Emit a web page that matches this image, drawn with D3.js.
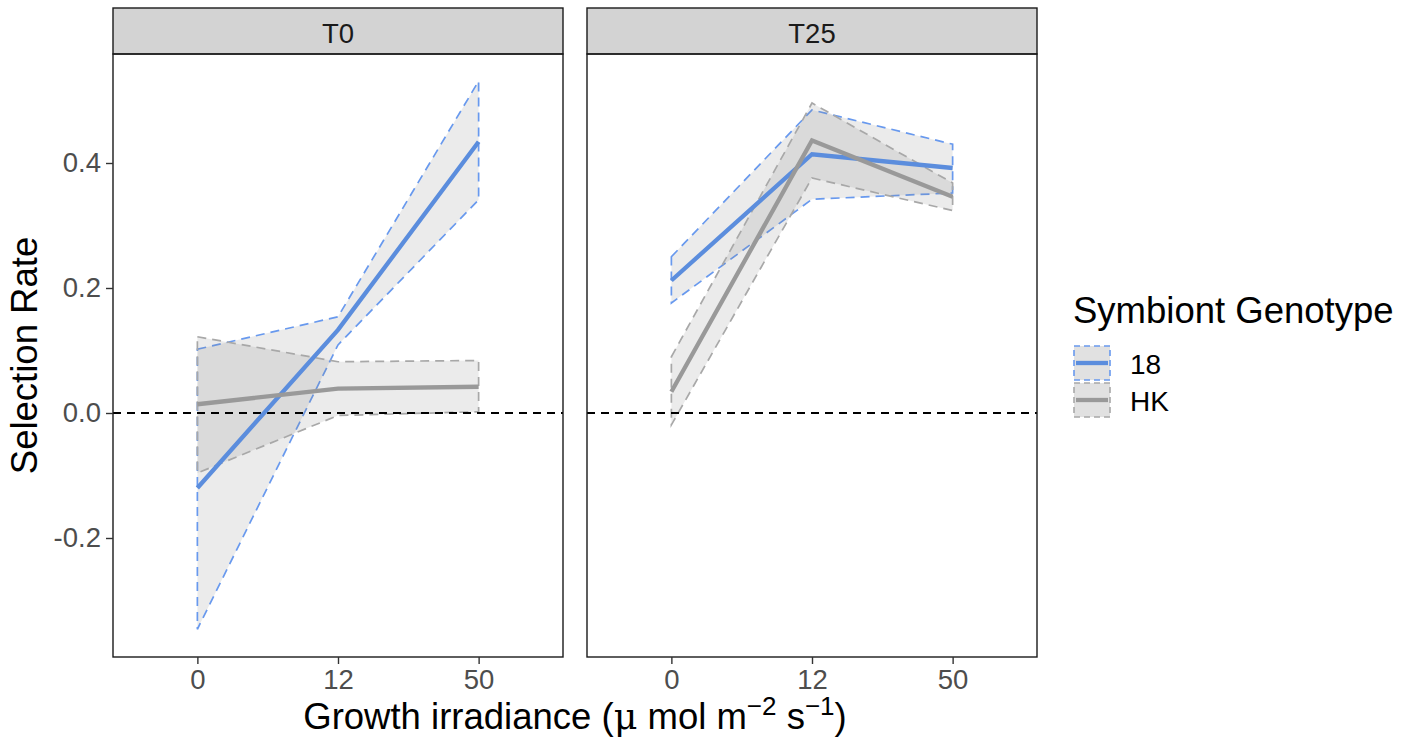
<!DOCTYPE html>
<html>
<head>
<meta charset="utf-8">
<script src="https://cdn.jsdelivr.net/npm/d3@7"></script>
<style>
  body { margin: 0; background: #fff; }
  text { font-family: "Liberation Sans", Arial, sans-serif; }
</style>
</head>
<body>
<div id="chart"></div>
<script>
// facets, categories and series
const facets = ["T0", "T25"];
const irradiance = ["0", "12", "50"];
const genotypes = ["18", "HK"];
const yTicks = [-0.2, 0.0, 0.2, 0.4];

// T0 panel
const t0_18_fit = [-0.120, 0.133, 0.434];
const t0_18_lwr = [-0.346, 0.109, 0.341];
const t0_18_upr = [0.102, 0.154, 0.531];
const t0_HK_fit = [0.014, 0.039, 0.042];
const t0_HK_lwr = [-0.096, -0.004, 0.002];
const t0_HK_upr = [0.122, 0.082, 0.084];

// T25 panel
const t25_18_fit = [0.212, 0.414, 0.392];
const t25_18_lwr = [0.176, 0.342, 0.352];
const t25_18_upr = [0.250, 0.485, 0.430];
const t25_HK_fit = [0.034, 0.436, 0.346];
const t25_HK_lwr = [-0.019, 0.376, 0.324];
const t25_HK_upr = [0.090, 0.496, 0.368];

const seriesByFacet = {
  T0: { "18": [t0_18_fit, t0_18_lwr, t0_18_upr], HK: [t0_HK_fit, t0_HK_lwr, t0_HK_upr] },
  T25: { "18": [t25_18_fit, t25_18_lwr, t25_18_upr], HK: [t25_HK_fit, t25_HK_lwr, t25_HK_upr] }
};

const lineColor = { "18": "#5b8ddd", HK: "#999999" };
const edgeColor = { "18": "#6899ee", HK: "#a8a8a8" };

const width = 1415, height = 749;
const panelTop = 54, panelBottom = 657, stripTop = 8;
const panelLeft = [113, 587], panelW = 450;

const svg = d3.select("#chart").append("svg").attr("width", width).attr("height", height);

const y = d3.scaleLinear().domain([-0.3904, 0.5744]).range([panelBottom, panelTop]);

facets.forEach(function(f, i) {
  const left = panelLeft[i];
  const x = d3.scalePoint().domain(irradiance).range([left, left + panelW]).padding(0.6);
  const g = svg.append("g");

  // strip
  g.append("rect").attr("x", left).attr("y", stripTop).attr("width", panelW).attr("height", panelTop - stripTop)
    .attr("fill", "#d3d3d3").attr("stroke", "#1a1a1a").attr("stroke-width", 1.4);
  g.append("text").attr("x", left + panelW / 2).attr("y", 43).attr("text-anchor", "middle")
    .attr("font-size", 27.5).attr("fill", "#1a1a1a").text(f);

  // ribbons
  genotypes.forEach(function(gt) {
    const s = seriesByFacet[f][gt];
    const area = d3.area().x(function(d, j) { return x(irradiance[j]); })
      .y0(function(d, j) { return y(s[1][j]); }).y1(function(d, j) { return y(s[2][j]); });
    g.append("path").datum(s[0]).attr("d", area)
      .attr("fill", "#808080").attr("fill-opacity", 0.16)
      .attr("stroke", edgeColor[gt]).attr("stroke-width", 1.7).attr("stroke-dasharray", "9,6");
  });

  // zero reference
  g.append("line").attr("x1", left).attr("x2", left + panelW).attr("y1", y(0)).attr("y2", y(0))
    .attr("stroke", "#000").attr("stroke-width", 1.8).attr("stroke-dasharray", "8,6");

  // fitted lines
  genotypes.forEach(function(gt) {
    const s = seriesByFacet[f][gt];
    const line = d3.line().x(function(d, j) { return x(irradiance[j]); }).y(function(d) { return y(d); });
    g.append("path").datum(s[0]).attr("d", line).attr("fill", "none")
      .attr("stroke", lineColor[gt]).attr("stroke-width", 4.3);
  });

  // panel border
  g.append("rect").attr("x", left).attr("y", panelTop).attr("width", panelW).attr("height", panelBottom - panelTop)
    .attr("fill", "none").attr("stroke", "#1a1a1a").attr("stroke-width", 1.4);

  // x axis
  const xa = g.append("g").attr("transform", "translate(0," + panelBottom + ")")
    .call(d3.axisBottom(x).tickSizeInner(7).tickSizeOuter(0).tickPadding(5));
  xa.select(".domain").remove();
  xa.selectAll("line").attr("stroke", "#333").attr("stroke-width", 1.4);
  xa.selectAll("text").attr("font-size", 27.5).attr("fill", "#4d4d4d").attr("font-family", "Liberation Sans, Arial, sans-serif");

  // y axis only on first panel
  if (i === 0) {
    const ya = g.append("g").attr("transform", "translate(" + left + ",0)")
      .call(d3.axisLeft(y).tickValues(yTicks).tickFormat(d3.format(".1f")).tickSizeInner(7).tickSizeOuter(0).tickPadding(5));
    ya.select(".domain").remove();
    ya.selectAll("line").attr("stroke", "#333").attr("stroke-width", 1.4);
    ya.selectAll("text").attr("font-size", 27.5).attr("fill", "#4d4d4d").attr("font-family", "Liberation Sans, Arial, sans-serif")
      .text(function(d) { return d3.format(".1f")(d).replace("−", "-"); });
  }
});

// axis titles
svg.append("text").attr("transform", "translate(37," + ((panelTop + panelBottom) / 2) + ") rotate(-90)")
  .attr("text-anchor", "middle").attr("font-size", 36.5).attr("fill", "#000").text("Selection Rate");

const xt = svg.append("text").attr("x", (panelLeft[0] + panelLeft[1] + panelW) / 2).attr("y", 729)
  .attr("text-anchor", "middle").attr("font-size", 36.5).attr("fill", "#000");
xt.append("tspan").text("Growth irradiance (");
xt.append("tspan").attr("font-family", "DejaVu Serif, serif").text("μ");
xt.append("tspan").text(" mol m");
xt.append("tspan").attr("dy", -14).attr("font-size", 26).text("−2");
xt.append("tspan").attr("dy", 14).text(" s");
xt.append("tspan").attr("dy", -14).attr("font-size", 26).text("−1");
xt.append("tspan").attr("dy", 14).text(")");

// legend
const lg = svg.append("g").attr("transform", "translate(1073,0)");
lg.append("text").attr("x", 0).attr("y", 323).attr("font-size", 36.5).attr("fill", "#000").text("Symbiont Genotype");
genotypes.forEach(function(gt, k) {
  const ky = 346 + k * 37;
  lg.append("rect").attr("x", 1).attr("y", ky).attr("width", 36).attr("height", 34)
    .attr("fill", "#808080").attr("fill-opacity", 0.24)
    .attr("stroke", edgeColor[gt]).attr("stroke-width", 1.6).attr("stroke-dasharray", "6,4");
  lg.append("line").attr("x1", 3).attr("x2", 35).attr("y1", ky + 17).attr("y2", ky + 17)
    .attr("stroke", lineColor[gt]).attr("stroke-width", 4.3);
  lg.append("text").attr("x", 57).attr("y", ky + 28).attr("font-size", 28).attr("fill", "#000").text(gt);
});
</script>
</body>
</html>
